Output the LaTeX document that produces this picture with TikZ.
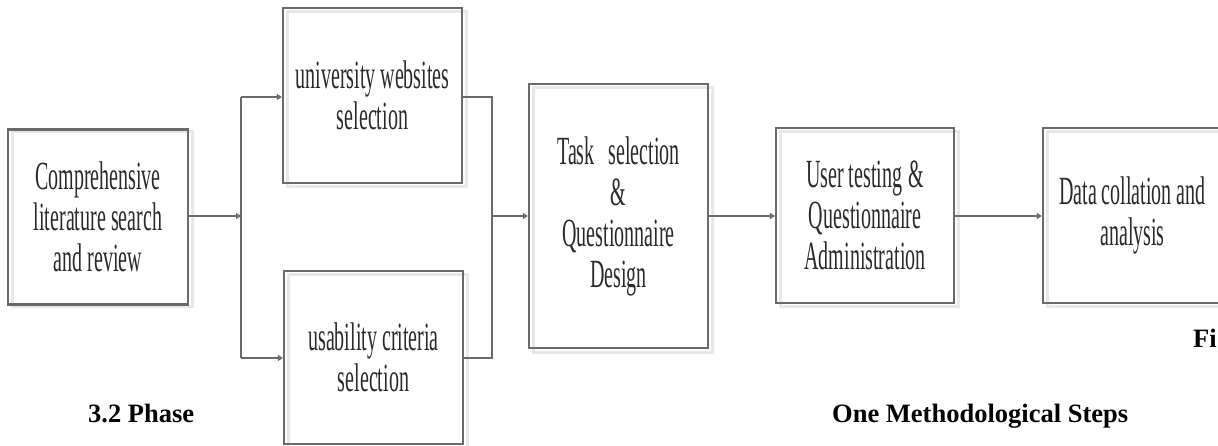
\documentclass[tikz,border=0pt]{standalone}
\usepackage{fontspec}
\setmainfont[FakeStretch=0.5]{Liberation Serif}
\newfontfamily\capfont{Liberation Serif}
\usetikzlibrary{arrows.meta}
\definecolor{edgegray}{HTML}{6A6A6A}
\definecolor{shadegray}{HTML}{E8E8E8}
\definecolor{textgray}{HTML}{2A2A2A}
\tikzset{
  stepbox/.style={draw=edgegray, line width=2.2pt, inner sep=0pt, align=center,
    text=textgray, font=\fontsize{40}{41}\selectfont},
  shadowline/.style={draw=shadegray, line width=3pt},
  conn/.style={draw=edgegray, line width=2.8pt},
  arr/.style={conn, -{Triangle[length=5pt,width=6pt,fill=edgegray!80]}},
  captext/.style={font=\capfont\bfseries\fontsize{26.5}{30}\selectfont, text=black, inner sep=0pt}
}
\begin{document}
\begin{tikzpicture}[x=1pt,y=-1pt]
\useasboundingbox (0,0) rectangle (1218,446);
% shadows
\foreach \xa/\ya/\xb/\yb in {8/128/188/303, 283/8/462/183, 284/271/463/444, 529/84/708/348, 776/128/954/303, 1043/128/1222/303}{
  \draw[shadowline] (\xa+4,\ya+4) rectangle (\xb+4,\yb+4);
}
% boxes
\node[stepbox, minimum width=180pt, minimum height=175pt] (b1) at (98,217)
  {Comprehensive\\literature search\\and review};
\node[stepbox, minimum width=179pt, minimum height=175pt] (b2) at (372.5,95.5)
  {university websites\\selection};
\node[stepbox, minimum width=179pt, minimum height=173pt] (b3) at (373.5,357.5)
  {usability criteria\\selection};
\node[stepbox, minimum width=179pt, minimum height=264pt] (b4) at (618.5,216)
  {Task\hspace{14pt}selection\\\&\\Questionnaire\\Design};
\node[stepbox, minimum width=178pt, minimum height=175pt] (b5) at (865,215.5)
  {User testing\hspace{6pt}\&\\Questionnaire\\Administration};
\begin{scope}
\clip (0,0) rectangle (1218,446);
\node[stepbox, minimum width=179pt, minimum height=175pt] (b6) at (1132.5,215.5)
  {Data collation and\\analysis};
\end{scope}
% junctions
\coordinate (jL) at (241,216);
\coordinate (jLt) at (241,97);
\coordinate (jLb) at (241,358);
\coordinate (jR) at (492,216);
\coordinate (jRt) at (492,97);
\coordinate (jRb) at (492,358);
% connectors
\draw[arr] (b1.east |- jL) -- (jL);
\draw[conn] (jLt) -- (jLb);
\draw[arr] (jLt) -- (jLt -| b2.west);
\draw[arr] (jLb) -- (jLb -| b3.west);
\draw[conn] (b2.east |- jRt) -- (jRt) -- (jRb) -- (b3.east |- jRb);
\draw[arr] (jR) -- (jR -| b4.west);
\draw[arr] (b4.east |- jR) -- (b5.west |- jR);
\draw[arr] (b5.east |- jR) -- (b6.west |- jR);
% captions
\node[captext, anchor=base west] (c1) at (88,422) {3.2 Phase};
\node[captext, anchor=base west] (c2) at (832,422) {One Methodological Steps};
\node[captext, anchor=base west] (c3) at (1193,348) {Fi};
\end{tikzpicture}
\end{document}
